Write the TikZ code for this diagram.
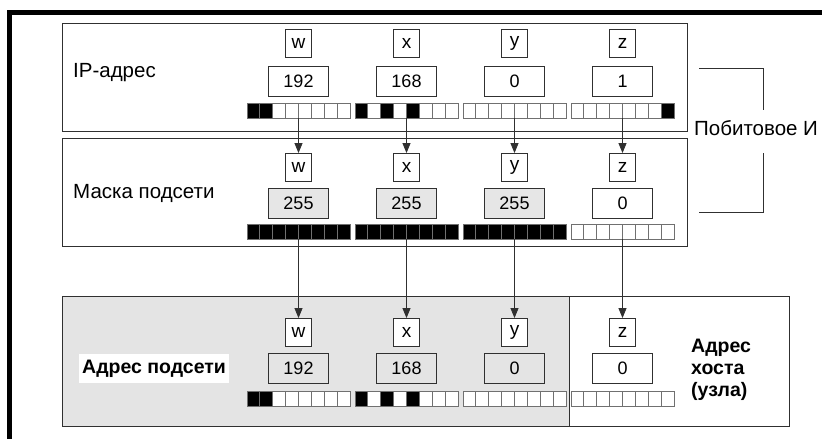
\documentclass[tikz,border=0pt]{standalone}
\usepackage{fontspec}
\setmainfont{Liberation Sans}
\usetikzlibrary{arrows.meta}
\definecolor{edge}{HTML}{303030}
\definecolor{cellline}{HTML}{707070}
\definecolor{panelgray}{HTML}{E4E4E4}
\definecolor{boxgray}{HTML}{E6E6E6}
% bit row: name, centre x, centre y, list of 8 bits
\newcommand\bitrow[4]{%
  \node[bitbar] (#1) at (#2,#3) {};
  \edef\bitlist{#4}%
  \foreach \b [count=\k from 0] in \bitlist {
    \pgfmathsetmacro\xl{#2-51.5+\k*12.875}
    \ifnum\b=1 \def\cf{black}\else\def\cf{white}\fi
    \filldraw[draw=cellline, line width=0.8pt, fill=\cf] (\xl,#3-7.5) rectangle ++(12.875,15);
  }}
\begin{document}
\begin{tikzpicture}[x=1pt,y=-1pt,
  letterbox/.style={draw=edge, line width=0.9pt, fill=white, minimum width=26pt, minimum height=28pt, inner sep=0pt, font=\fontsize{19}{19}\selectfont},
  numbox/.style={draw=edge, line width=0.9pt, minimum width=60pt, minimum height=30pt, inner sep=0pt, font=\fontsize{18}{18}\selectfont},
  bitbar/.style={minimum width=103pt, minimum height=15pt, inner sep=0pt},
  panel/.style={draw=edge, line width=1.2pt, inner sep=0pt, anchor=north west},
  lbl/.style={anchor=west, inner sep=0pt, font=\fontsize{20.5}{20.5}\selectfont},
  blbl/.style={anchor=west, font=\bfseries\fontsize{19.5}{22}\selectfont},
  conn/.style={draw=edge, line width=0.8pt, -{Triangle[width=8pt,length=10pt]}},
  bracket/.style={draw=edge, line width=0.9pt}]
\useasboundingbox (0,0) rectangle (822,439);
% outer frame (left and top only)
\draw[line width=5pt] (9.5,439) -- (9.5,12.5) -- (822,12.5);
% panels
\node[panel, minimum width=625pt, minimum height=108pt] (P1) at (62,23) {};
\node[panel, minimum width=625pt, minimum height=108pt] (P2) at (62,138) {};
\node[panel, fill=panelgray, minimum width=507pt, minimum height=130pt] (P3a) at (62,296) {};
\node[panel, fill=white, minimum width=220pt, minimum height=130pt] (P3b) at (569,296) {};
% labels
\node[lbl] (t1) at (73,73) {IP-адрес};
\node[lbl] (t2) at (73,193) {Маска подсети};
\node[blbl, fill=white, inner xsep=3pt, minimum height=29pt] (t3) at (79,368.5) {Адрес подсети};
\node[blbl, align=left, inner sep=0pt] (t4) at (691,370) {Адрес\\хоста\\(узла)};
\node[lbl] (t5) at (694,128) {Побитовое И};
% columns
\foreach \i/\c/\n/\a/\ab/\mb/\mf/\m/\rf in {
  1/w/192/{1,1,0,0,0,0,0,0}/255/{1,1,1,1,1,1,1,1}/boxgray/192/panelgray,
  2/x/168/{1,0,1,0,1,0,0,0}/255/{1,1,1,1,1,1,1,1}/boxgray/168/panelgray,
  3/y/0/{0,0,0,0,0,0,0,0}/255/{1,1,1,1,1,1,1,1}/boxgray/0/panelgray,
  4/z/1/{0,0,0,0,0,0,0,1}/0/{0,0,0,0,0,0,0,0}/white/0/white}{
  \pgfmathsetmacro\cx{298.5+108*(\i-1)}
  % panel 1
  \node[letterbox] (La\i) at (\cx,43.5) {\c};
  \node[numbox, fill=white] (Na\i) at (\cx,81.5) {\n};
  \bitrow{Ba\i}{\cx}{110.5}{\a}
  % panel 2
  \node[letterbox] (Lb\i) at (\cx,167.5) {\c};
  \node[numbox, fill=\mf] (Nb\i) at (\cx,203) {\ab};
  \bitrow{Bb\i}{\cx}{231.5}{\mb}
  % panel 3
  \node[letterbox] (Lc\i) at (\cx,332.5) {\c};
  \node[numbox, fill=\rf] (Nc\i) at (\cx,368.5) {\m};
  \ifnum\i<4 \bitrow{Bc\i}{\cx}{399}{\a}\else\bitrow{Bc\i}{\cx}{399}{0,0,0,0,0,0,0,0}\fi
  % connectors
  \draw[conn] (Ba\i.south) -- (Lb\i.north);
  \draw[conn] (Bb\i.south) -- (Lc\i.north);
}
% bracket
\coordinate (k1) at (699,68);
\coordinate (k2) at (763,68);
\coordinate (k3) at (763,110);
\coordinate (k4) at (763,153);
\coordinate (k5) at (763,212);
\coordinate (k6) at (699,212);
\draw[bracket] (k1) -- (k2) -- (k3);
\draw[bracket] (k4) -- (k5) -- (k6);
\end{tikzpicture}
\end{document}
